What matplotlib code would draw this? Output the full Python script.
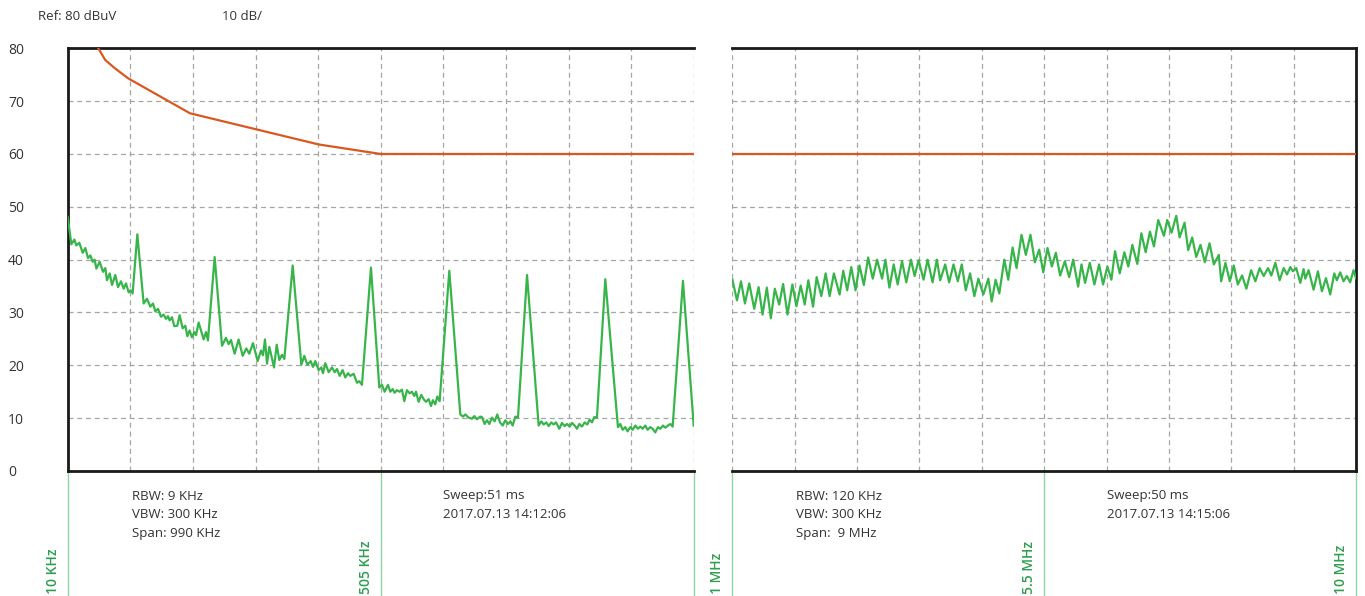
import matplotlib
matplotlib.use("Agg")
import matplotlib.pyplot as plt
import matplotlib.transforms as mtrans
import numpy as np

plt.rcParams['font.family'] = ['Open Sans', 'DejaVu Sans']

# ---------------- data ----------------
left_freq_khz = [10.0, 15.8, 20.5, 23.7, 28.4, 33.7, 37.9, 42.1, 45.8, 49.5, 52.6, 55.3, 60.6, 65.8, 69.5,
                 72.1, 76.4, 80.1, 85.3, 89.5, 94.3, 98.5, 102.2, 106.4, 109.6, 112.7, 120.1, 130.1, 135.4,
                 140.7, 144.9, 148.6, 152.8, 157.5, 161.7, 165.4, 168.6, 171.2, 174.9, 178.6, 183.3, 187.0,
                 191.8, 196.0, 199.2, 202.8, 206.5, 210.2, 212.9, 217.1, 225.0, 228.7, 231.8, 242.4, 254.0,
                 260.3, 264.5, 268.2, 274.0, 280.3, 286.7, 292.5, 297.2, 303.0, 310.4, 315.6, 318.8, 322.0,
                 325.2, 328.9, 336.3, 340.5, 344.7, 348.9, 352.6, 365.8, 379.5, 384.2, 389.0, 394.2, 397.9,
                 401.6, 406.9, 411.1, 413.7, 417.4, 422.7, 428.0, 432.2, 435.9, 440.1, 444.8, 449.0, 453.3,
                 456.9, 462.2, 467.5, 471.2, 475.4, 489.6, 502.8, 507.0, 511.2, 516.5, 520.2, 523.9, 527.0,
                 530.7, 534.9, 538.6, 542.3, 546.5, 550.8, 554.4, 558.1, 560.8, 565.0, 569.2, 572.9, 576.6,
                 580.8, 584.5, 587.6, 591.3, 594.5, 598.2, 613.5, 630.9, 635.1, 638.8, 644.0, 649.3, 653.0,
                 657.2, 662.5, 665.2, 669.4, 673.1, 676.8, 681.0, 685.2, 689.4, 693.7, 697.9, 702.1, 706.3,
                 710.0, 713.7, 717.9, 722.1, 736.4, 754.8, 759.0, 762.7, 766.9, 770.6, 774.8, 778.5, 782.2,
                 787.5, 791.7, 795.9, 799.6, 803.8, 807.5, 811.7, 815.4, 819.1, 823.3, 827.5, 831.7, 835.4,
                 839.1, 842.8, 847.0, 860.2, 880.2, 883.9, 887.6, 891.8, 895.5, 899.7, 903.4, 907.6, 911.8,
                 915.5, 919.2, 923.4, 927.1, 931.4, 935.0, 939.2, 943.5, 947.2, 951.4, 955.1, 959.3, 963.0,
                 966.7, 983.0, 1000.0]
left_level_db = [48.1, 42.9, 43.8, 42.7, 43.2, 41.3, 42.2, 40.3, 40.8, 39.6, 40.0, 38.3, 39.6, 37.7, 38.4,
                 36.1, 37.4, 35.2, 37.1, 34.8, 35.9, 34.5, 35.5, 33.8, 34.2, 33.6, 44.8, 31.7, 32.6,
                 31.1, 31.7, 30.2, 30.7, 29.2, 29.6, 28.8, 29.3, 28.5, 29.1, 27.4, 27.5, 29.5,
                 27.0, 27.5, 25.5, 26.6, 25.3, 26.3, 25.7, 28.1, 24.9, 26.3, 24.7, 40.5, 23.7,
                 25.2, 24.0, 24.8, 22.2, 24.9, 21.8, 23.2, 22.2, 24.2, 20.8, 22.8, 21.9, 24.9,
                 20.3, 23.5, 19.6, 23.9, 21.0, 22.0, 21.2, 38.9, 20.1, 21.8, 20.1, 20.8, 19.7,
                 20.8, 19.1, 19.6, 18.5, 20.4, 18.7, 19.6, 18.7, 19.3, 18.0, 19.1, 17.7, 18.5,
                 18.0, 18.4, 16.7, 17.0, 16.3, 38.5, 15.8, 16.3, 15.0, 16.3, 15.0, 15.5, 14.8,
                 15.3, 15.0, 15.4, 13.2, 15.3, 14.7, 15.0, 14.2, 15.0, 13.1, 14.4, 13.6, 13.1,
                 13.6, 12.3, 13.4, 12.6, 14.1, 13.2, 37.9, 10.7, 10.3, 10.7, 10.1, 9.9, 10.4,
                 9.8, 10.3, 10.2, 8.9, 9.6, 8.9, 10.1, 9.4, 10.7, 9.2, 8.6, 9.6, 8.9,
                 9.4, 8.6, 10.3, 10.1, 37.1, 8.6, 9.4, 8.8, 9.2, 8.5, 9.2, 8.8, 9.2,
                 8.0, 9.1, 8.5, 8.9, 8.4, 9.1, 8.6, 8.0, 8.9, 8.4, 9.2, 8.8, 9.7,
                 9.2, 10.2, 10.1, 36.3, 8.3, 8.9, 7.8, 8.3, 7.5, 8.3, 7.8, 8.6, 8.0,
                 8.4, 8.0, 8.6, 7.8, 8.3, 8.0, 7.3, 8.3, 8.0, 8.6, 8.2, 8.6, 8.9,
                 8.4, 36.0, 8.6]

right_freq_mhz = [1.0, 1.066, 1.124, 1.181, 1.243, 1.315, 1.378, 1.435, 1.497, 1.555, 1.612, 1.675, 1.732,
                  1.795, 1.866, 1.924, 1.986, 2.044, 2.096, 2.164, 2.216, 2.283, 2.346, 2.403, 2.465, 2.547,
                  2.600, 2.657, 2.715, 2.777, 2.834, 2.897, 2.959, 3.026, 3.088, 3.160, 3.208, 3.266, 3.328,
                  3.385, 3.448, 3.510, 3.577, 3.630, 3.687, 3.759, 3.817, 3.889, 3.951, 3.999, 4.071, 4.128,
                  4.191, 4.253, 4.310, 4.368, 4.430, 4.492, 4.550, 4.622, 4.694, 4.742, 4.799, 4.852, 4.924,
                  4.981, 5.044, 5.101, 5.173, 5.235, 5.302, 5.365, 5.428, 5.486, 5.548, 5.610, 5.668, 5.730,
                  5.798, 5.860, 5.918, 5.990, 6.038, 6.090, 6.158, 6.225, 6.292, 6.350, 6.412, 6.470, 6.522,
                  6.590, 6.657, 6.714, 6.772, 6.844, 6.902, 6.964, 7.026, 7.084, 7.146, 7.228, 7.276, 7.338,
                  7.406, 7.454, 7.526, 7.578, 7.636, 7.694, 7.756, 7.818, 7.886, 7.948, 8.020, 8.054, 8.116,
                  8.178, 8.236, 8.294, 8.356, 8.418, 8.486, 8.548, 8.610, 8.668, 8.730, 8.778, 8.836, 8.898,
                  8.956, 9.004, 9.052, 9.090, 9.138, 9.196, 9.244, 9.268, 9.316, 9.388, 9.450, 9.508, 9.566,
                  9.628, 9.686, 9.724, 9.772, 9.820, 9.868, 9.916, 9.964, 10.0]
right_level_db = [36.2, 32.3, 35.9, 31.7, 35.5, 30.7, 34.8, 29.6, 34.7, 28.9, 34.5, 31.5, 35.4,
                  29.6, 35.3, 31.2, 35.1, 31.5, 36.1, 31.1, 36.7, 33.1, 37.4, 33.1, 37.4, 33.4,
                  37.9, 34.2, 38.6, 34.2, 38.9, 35.2, 40.4, 36.4, 40.0, 36.4, 40.0, 34.7, 39.1,
                  35.3, 39.7, 35.7, 40.0, 36.9, 39.9, 36.2, 40.0, 35.7, 40.0, 36.1, 39.1, 35.7,
                  39.1, 35.9, 39.1, 34.2, 37.4, 33.1, 36.4, 33.4, 36.4, 32.1, 36.2, 33.6, 40.0,
                  36.2, 42.3, 38.4, 44.7, 40.9, 44.7, 39.5, 41.9, 37.6, 42.2, 38.7, 41.3, 37.0,
                  39.7, 36.7, 40.0, 34.9, 39.1, 35.6, 39.4, 35.3, 39.1, 35.3, 38.7, 36.2, 41.6,
                  37.4, 41.4, 38.7, 42.8, 39.2, 45.0, 41.4, 45.3, 42.5, 47.5, 44.5, 47.5, 45.1,
                  48.3, 44.2, 47.0, 41.8, 44.2, 40.5, 42.8, 39.5, 43.1, 39.1, 40.9, 35.9, 39.4,
                  35.9, 38.9, 35.3, 37.0, 34.5, 38.0, 35.9, 38.4, 36.9, 38.4, 37.0, 39.4, 36.1,
                  38.4, 37.2, 38.6, 37.8, 38.4, 35.6, 38.2, 36.4, 38.0, 34.3, 37.8, 34.0, 36.5,
                  33.4, 37.4, 36.1, 37.6, 35.9, 36.9, 35.7, 38.0, 36.5]

limit_left_freq_khz = [58.4, 69.3, 84.8, 105.8, 203.4, 407.0, 505.0, 1000.0]
limit_left_db = [80.0, 77.8, 76.2, 74.3, 67.7, 61.8, 60.0, 60.0]
limit_right_freq_mhz = [1.0, 10.0]
limit_right_db = [60.0, 60.0]

y_ticks = [0, 10, 20, 30, 40, 50, 60, 70, 80]
left_span = (10, 1000)
right_span = (1, 10)
left_marks = [10, 505, 1000]
left_mark_labels = ["10 KHz", "505 KHz", ""]
right_marks = [1, 5.5, 10]
right_mark_labels = ["1 MHz", "5.5 MHz", "10 MHz"]

left_info_a = ["RBW: 9 KHz", "VBW: 300 KHz", "Span: 990 KHz"]
left_info_b = ["Sweep:51 ms", "2017.07.13 14:12:06"]
right_info_a = ["RBW: 120 KHz", "VBW: 300 KHz", "Span:  9 MHz"]
right_info_b = ["Sweep:50 ms", "2017.07.13 14:15:06"]

# ---------------- style ----------------
W, H = 1365, 596
TXT = '#333333'
GREEN = '#38b54a'
ORANGE = '#d9581f'
MARK_GREEN = '#8fd6a4'
LABEL_GREEN = '#2e9e4f'
GRID = '#a6a6a6'

fig = plt.figure(figsize=(W / 100, H / 100), dpi=100)
fig.patch.set_facecolor('white')

y0, y1 = 471, 48.3
ax1 = fig.add_axes([67.7 / W, (H - y0) / H, (693.7 - 67.7) / W, (y0 - y1) / H])
ax2 = fig.add_axes([732.4 / W, (H - y0) / H, (1356 - 732.4) / W, (y0 - y1) / H])


def style_axis(ax, span, show_left, show_right):
    ax.set_xlim(*span)
    ax.set_ylim(0, 80)
    ax.set_xticks(np.linspace(span[0], span[1], 11))
    ax.set_yticks(y_ticks)
    ax.grid(True, color=GRID, linestyle=(0, (4, 3)), linewidth=0.9)
    ax.set_axisbelow(True)
    ax.tick_params(length=0, labelbottom=False)
    for s in ['top', 'bottom', 'left', 'right']:
        ax.spines[s].set_color('#1a1a1a')
        ax.spines[s].set_linewidth(2.0)
    ax.spines['left'].set_visible(show_left)
    ax.spines['right'].set_visible(show_right)


style_axis(ax1, left_span, True, False)
style_axis(ax2, right_span, False, True)

ax1.tick_params(axis='y', pad=43, labelsize=10, labelcolor=TXT)
for lab in ax1.get_yticklabels():
    lab.set_horizontalalignment('left')
ax2.tick_params(axis='y', labelleft=False)

ax1.plot(limit_left_freq_khz, limit_left_db, color=ORANGE, lw=1.6, zorder=3)
ax2.plot(limit_right_freq_mhz, limit_right_db, color=ORANGE, lw=1.6, zorder=3)
ax1.plot(left_freq_khz, left_level_db, color=GREEN, lw=1.6, zorder=4)
ax2.plot(right_freq_mhz, right_level_db, color=GREEN, lw=1.6, zorder=4)

# marker lines and labels below axes
for ax, marks, labels in [(ax1, left_marks, left_mark_labels), (ax2, right_marks, right_mark_labels)]:
    trans = mtrans.blended_transform_factory(ax.transData, fig.transFigure)
    for m, lab in zip(marks, labels):
        ax.plot([m, m], [(H - y0) / H, 0], color=MARK_GREEN, lw=1.0, transform=trans, clip_on=False)
        if lab:
            t2 = mtrans.offset_copy(trans, fig=fig, x=-15, y=2, units='dots')
            ax.text(m, 0, lab, transform=t2, rotation=90, ha='center', va='bottom',
                    color=LABEL_GREEN, fontsize=10, fontweight='semibold', clip_on=False)

# header
fig.text(38 / W, 1 - 17 / H, "Ref: 80 dBuV", fontsize=9.5, color=TXT, va='center', ha='left')
fig.text(222 / W, 1 - 17 / H, "10 dB/", fontsize=9.5, color=TXT, va='center', ha='left')

# info blocks
line_y = [496, 515, 534]
for x, lines in [(132, left_info_a), (443, left_info_b), (796, right_info_a), (1107, right_info_b)]:
    for yy, s in zip(line_y, lines):
        fig.text(x / W, 1 - yy / H, s, fontsize=9.5, color=TXT, va='center', ha='left')

fig.savefig('out.png', dpi=100)
